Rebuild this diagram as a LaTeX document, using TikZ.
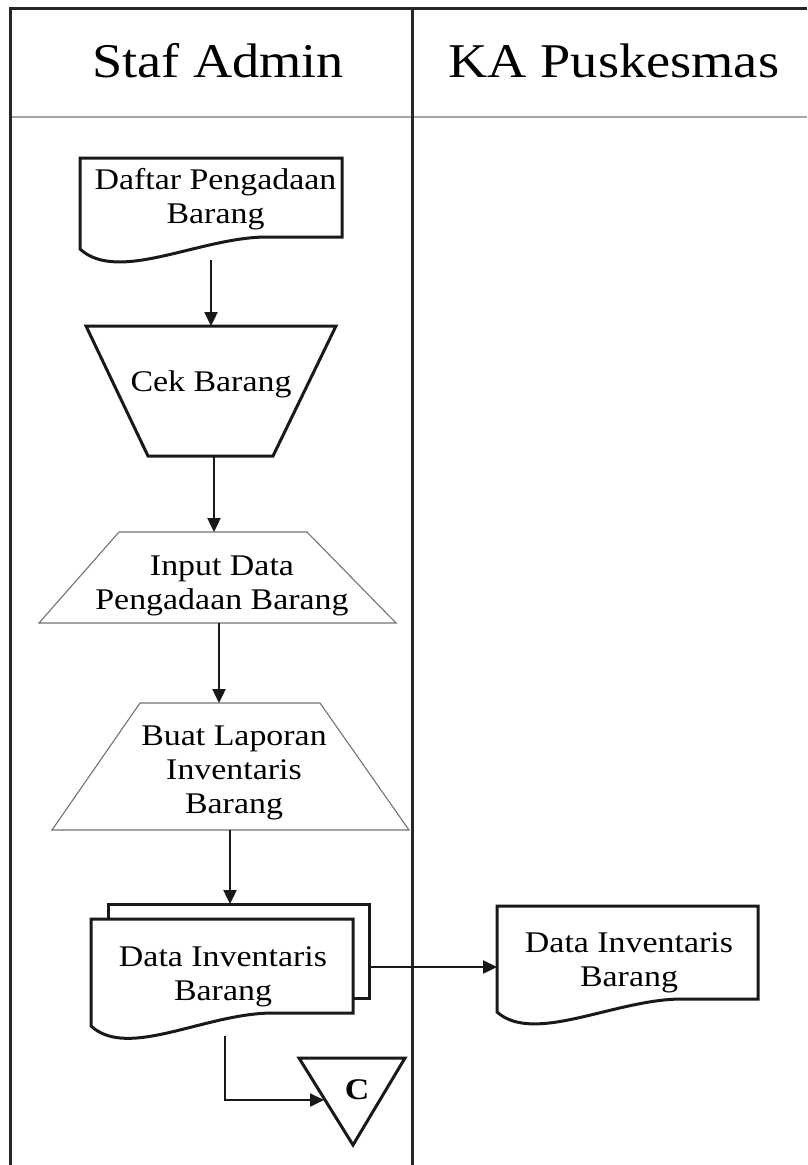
\documentclass[tikz,border=0pt]{standalone}
\usepackage{fontspec}
\setmainfont{Liberation Serif}
\newfontfamily\bodyfont[FakeStretch=1.13]{Liberation Serif}
\newfontfamily\titlefont[FakeStretch=1.12]{Liberation Serif}
\usetikzlibrary{arrows.meta}
\tikzset{
  lane/.style={line width=3pt, draw=black!85},
  hdrline/.style={line width=2pt, draw=black!35},
  shapeline/.style={line width=3pt, draw=black!90, fill=white, line join=miter},
  thinshape/.style={line width=1.1pt, draw=black!55, fill=white},
  flow/.style={line width=2.4pt, draw=black!90, -{Triangle[length=14pt,width=13pt]}},
  title/.style={font=\titlefont\fontsize{48.5}{54}\selectfont, anchor=base, inner sep=0pt},
  label/.style={font=\bodyfont\fontsize{30}{34}\selectfont, align=center, inner sep=0pt},
}
\begin{document}
\begin{tikzpicture}[x=1pt,y=-1pt]
\useasboundingbox (0,0) rectangle (807,1165);
\fill[white] (0,0) rectangle (807,1165);
% lanes
\draw[hdrline] (10,117) -- (807,117);
\draw[lane] (10,1166) -- (10,8) -- (807,8);
\draw[lane] (412.5,8) -- (412.5,1166);
\node[title] (t1) at (218,77) {Staf Admin};
\node[title] (t2) at (614,77) {KA Puskesmas};

% document 1
\draw[shapeline] (80,249) -- (80,158) -- (342,158) -- (342,237) -- (267,237)
   .. controls (200,237) and (118,284) .. (80,249) -- cycle;
\node[label] (doc1) at (215.5,199) {Daftar Pengadaan\\Barang};
\coordinate (doc1b) at (211,260);

% manual operation
\draw[shapeline] (86,326) -- (336,326) -- (273,456) -- (148,456) -- cycle;
\node[label, anchor=base] (cek) at (211,391) {Cek Barang};
\coordinate (cekt) at (211,326);
\coordinate (cekb) at (214,456);

% input data
\draw[thinshape] (119,532) -- (307,532) -- (396,623) -- (39,623) -- cycle;
\node[label] (inp) at (222,586) {Input Data\\Pengadaan Barang};
\coordinate (inpt) at (214,532);
\coordinate (inpb) at (219,623);

% buat laporan
\draw[thinshape] (140,703) -- (320,703) -- (409,830) -- (52,830) -- cycle;
\node[label] (lap) at (234,773) {Buat Laporan\\Inventaris\\Barang};
\coordinate (lapt) at (219,703);
\coordinate (lapb) at (230,830);

% multi document
\draw[shapeline] (108,919) -- (108,904) -- (369,904) -- (369,998) -- (353,998);
\draw[shapeline] (91,1026) -- (91,919) -- (353,919) -- (353,1013) -- (273,1013)
   .. controls (205,1013) and (128,1060) .. (91,1026) -- cycle;
\node[label] (dib) at (223,977) {Data Inventaris\\Barang};
\coordinate (dibt) at (230,904);
\coordinate (dibr) at (369,967);
\coordinate (dibb) at (225,1036);

% right document
\draw[shapeline] (497,1012) -- (497,906) -- (758,906) -- (758,999) -- (682,999)
   .. controls (615,999) and (534,1045) .. (497,1012) -- cycle;
\node[label] (dir) at (629,963) {Data Inventaris\\Barang};
\coordinate (dirl) at (497,967);

% off-page connector
\draw[shapeline] (299,1058) -- (405,1058) -- (353,1145) -- cycle;
\node[font=\bodyfont\bfseries\fontsize{30}{34}\selectfont, inner sep=0pt] (c) at (357,1090) {C};
\coordinate (cl) at (324,1100);

% connectors
\draw[flow] (doc1b) -- (cekt);
\draw[flow] (cekb) -- (cekb |- inpt);
\draw[flow] (inpb) -- (inpb |- lapt);
\draw[flow] (lapb) -- (lapb |- dibt);
\draw[flow] (dibr) -- (dirl);
\draw[flow] (dibb) -- (dibb |- cl) -- (cl);
\end{tikzpicture}
\end{document}
